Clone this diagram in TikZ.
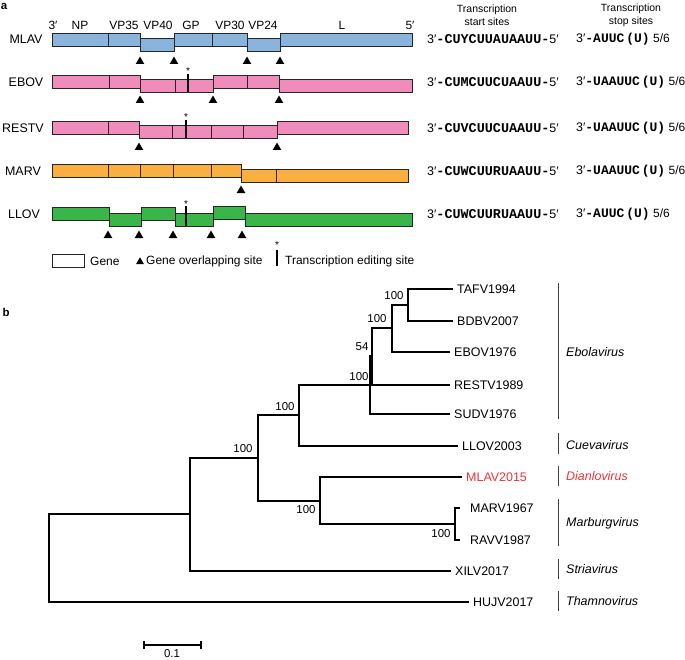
\documentclass[tikz,border=0pt]{standalone}
\usepackage{fontspec}
\setmainfont{Liberation Sans}
\setmonofont{Liberation Mono}
\usepackage{tikz}
\usetikzlibrary{shapes.geometric}
\pgfdeclarelayer{edgelayer}
\pgfdeclarelayer{nodelayer}
\pgfsetlayers{edgelayer,nodelayer,main}
\definecolor{mlavblue}{RGB}{139,180,220}
\definecolor{ebovpink}{RGB}{240,140,185}
\definecolor{marvorange}{RGB}{249,176,64}
\definecolor{llovgreen}{RGB}{57,181,74}
\definecolor{newred}{RGB}{237,50,55}
\newcommand{\startseq}[1]{{\fontsize{13.5}{14}\selectfont\ttfamily\bfseries #1}}
\newcommand{\stopseq}[1]{{\fontsize{13}{14}\selectfont\ttfamily\bfseries #1}}
\newcommand{\fivesix}{{\fontsize{12}{13}\selectfont 5/6}}
\tikzstyle{none} = []
\tikzstyle{Blue Gene}=[fill=mlavblue, draw=black!85, line width=0.9pt]
\tikzstyle{Pink Gene}=[fill=ebovpink, draw=black!85, line width=0.9pt]
\tikzstyle{Orange Gene}=[fill=marvorange, draw=black!85, line width=0.9pt]
\tikzstyle{Green Gene}=[fill=llovgreen, draw=black!85, line width=0.9pt]
\tikzstyle{White Gene}=[fill=white, draw=black!85, line width=0.9pt]
\tikzstyle{Overlap}=[regular polygon, regular polygon sides=3, fill=black, inner sep=0pt, outer sep=0pt, minimum size=10pt, anchor=south]
\tikzstyle{Edit Bar}=[-, draw=black, line width=2.6pt]
\tikzstyle{Branch}=[-, draw=black, line width=1.6pt]
\tikzstyle{Thick Branch}=[-, draw=black, line width=2.6pt]
\tikzstyle{Genus Bar}=[-, draw=black!75, line width=0.9pt]
\tikzstyle{Gene Name}=[inner sep=0pt, font=\fontsize{12}{13}\selectfont]
\tikzstyle{Header}=[inner sep=0pt, align=center, font=\fontsize{10.5}{13}\selectfont]
\tikzstyle{Tip}=[anchor=west, inner sep=0pt]
\tikzstyle{Legend}=[anchor=west, inner sep=0pt, font=\fontsize{12}{13}\selectfont]
\tikzstyle{Genus}=[anchor=west, inner sep=0pt, font=\fontsize{12.5}{13}\selectfont\itshape]
\tikzstyle{Support}=[inner sep=0pt, font=\fontsize{11.5}{12}\selectfont]
\tikzstyle{Panel}=[inner sep=0pt, font=\fontsize{11.5}{13}\selectfont\bfseries]
\tikzstyle{Star}=[inner sep=0pt, font=\fontsize{10}{11}\selectfont]
\begin{document}
\begin{tikzpicture}[x=1bp, y=-1bp]
	\fontsize{12.5}{14}\selectfont
	\useasboundingbox (0,0) rectangle (685,660);
	\begin{pgfonlayer}{nodelayer}
		% panel a, labels
		\node [style=Panel] (0) at (4,6) {a};
		\node [style=Gene Name] (1) at (53,25) {3′};
		\node [style=Gene Name] (2) at (80,25) {NP};
		\node [style=Gene Name] (3) at (124,25) {VP35};
		\node [style=Gene Name] (4) at (158,25) {VP40};
		\node [style=Gene Name] (5) at (191,25) {GP};
		\node [style=Gene Name] (6) at (230,25) {VP30};
		\node [style=Gene Name] (7) at (263,25) {VP24};
		\node [style=Gene Name] (8) at (342,25) {L};
		\node [style=Gene Name] (9) at (410,25) {5′};
		\node [style=none, inner sep=0pt] (10) at (26,39) {MLAV};
		\node [style=none, inner sep=0pt] (11) at (26,82) {EBOV};
		\node [style=none, inner sep=0pt] (12) at (23,128) {RESTV};
		\node [style=none, inner sep=0pt] (13) at (23,171) {MARV};
		\node [style=none, inner sep=0pt] (14) at (24,214) {LLOV};
		\node [style=Header] (15) at (487,15) {Transcription\\start sites};
		\node [style=Header] (16) at (631,15) {Transcription\\stop sites};
		\node [style=Tip] (17) at (427,39) {3′\startseq{-CUYCUUAUAAUU-}5′};
		\node [style=Tip] (18) at (427,82) {3′\startseq{-CUMCUUCUAAUU-}5′};
		\node [style=Tip] (19) at (427,128) {3′\startseq{-CUVCUUCUAAUU-}5′};
		\node [style=Tip] (20) at (427,171) {3′\startseq{-CUWCUURUAAUU-}5′};
		\node [style=Tip] (21) at (427,214) {3′\startseq{-CUWCUURUAAUU-}5′};
		\node [style=Tip] (22) at (576,39) {3′\stopseq{-AUUC\hspace{2bp}(U)} \fivesix};
		\node [style=Tip] (23) at (576,82) {3′\stopseq{-UAAUUC\hspace{2bp}(U)} \fivesix};
		\node [style=Tip] (24) at (576,128) {3′\stopseq{-UAAUUC\hspace{2bp}(U)} \fivesix};
		\node [style=Tip] (25) at (576,171) {3′\stopseq{-UAAUUC\hspace{2bp}(U)} \fivesix};
		\node [style=Tip] (26) at (576,214) {3′\stopseq{-AUUC\hspace{2bp}(U)} \fivesix};
		% overlapping sites
		\node [style=Overlap] (30) at (140,64) {};
		\node [style=Overlap] (31) at (174,64) {};
		\node [style=Overlap] (32) at (247,64) {};
		\node [style=Overlap] (33) at (280,64) {};
		\node [style=Overlap] (34) at (140,103) {};
		\node [style=Overlap] (35) at (213,103) {};
		\node [style=Overlap] (36) at (279,103) {};
		\node [style=Overlap] (37) at (139,150) {};
		\node [style=Overlap] (38) at (277,150) {};
		\node [style=Overlap] (39) at (241,193) {};
		\node [style=Overlap] (40) at (108,238) {};
		\node [style=Overlap] (41) at (139,238) {};
		\node [style=Overlap] (42) at (173,238) {};
		\node [style=Overlap] (43) at (211,238) {};
		\node [style=Overlap] (44) at (242,238) {};
		\node [style=Star] (45) at (188,71) {*};
		\node [style=Star] (46) at (186,117) {*};
		\node [style=Star] (47) at (186,204) {*};
		% legend
		\node [style=Legend] (50) at (90,261) {Gene};
		\node [style=Overlap, minimum size=9pt] (51) at (140,264) {};
		\node [style=Legend] (52) at (146,261) {Gene overlapping site};
		\node [style=Star] (53) at (277,245) {*};
		\node [style=Legend] (54) at (285,261) {Transcription editing site};
		% panel b, tree
		\node [style=Panel] (60) at (6,312) {b};
		\node [style=none] (100) at (49,558) {};
		\node [style=none] (101) at (190,514) {};
		\node [style=none] (102) at (258,458) {};
		\node [style=none] (103) at (299,415) {};
		\node [style=none] (104) at (370,385) {};
		\node [style=none] (105) at (372,356) {};
		\node [style=none] (106) at (392,328) {};
		\node [style=none] (107) at (408,305) {};
		\node [style=none] (108) at (320,501) {};
		\node [style=none] (109) at (455,524) {};
		\node [style=none] (110) at (453,289) {};
		\node [style=none] (111) at (453,321) {};
		\node [style=none] (112) at (450,352) {};
		\node [style=none] (113) at (450,385) {};
		\node [style=none] (114) at (450,414) {};
		\node [style=none] (115) at (458,446) {};
		\node [style=none] (116) at (462,477) {};
		\node [style=none] (117) at (460,508) {};
		\node [style=none] (118) at (460,540) {};
		\node [style=none] (119) at (451,571) {};
		\node [style=none] (120) at (469,602) {};
		\node [style=Tip] (130) at (457,289) {TAFV1994};
		\node [style=Tip] (131) at (457,321) {BDBV2007};
		\node [style=Tip] (132) at (454,352) {EBOV1976};
		\node [style=Tip] (133) at (454,385) {RESTV1989};
		\node [style=Tip] (134) at (454,414) {SUDV1976};
		\node [style=Tip] (135) at (462,446) {LLOV2003};
		\node [style=Tip, text=newred] (136) at (466,477) {MLAV2015};
		\node [style=Tip] (137) at (470,508) {MARV1967};
		\node [style=Tip] (138) at (470,540) {RAVV1987};
		\node [style=Tip] (139) at (455,571) {XILV2017};
		\node [style=Tip] (140) at (473,602) {HUJV2017};
		\node [style=Support] (141) at (243,449) {100};
		\node [style=Support] (142) at (285,407) {100};
		\node [style=Support] (143) at (306,510) {100};
		\node [style=Support] (144) at (441,534) {100};
		\node [style=Support] (145) at (359,377) {100};
		\node [style=Support] (146) at (362,347) {54};
		\node [style=Support] (147) at (377,319) {100};
		\node [style=Support] (148) at (394,296) {100};
		\node [style=none] (150) at (558,283) {};
		\node [style=none] (151) at (558,419) {};
		\node [style=none] (152) at (558,433) {};
		\node [style=none] (153) at (558,454) {};
		\node [style=none] (154) at (558,466) {};
		\node [style=none] (155) at (558,486) {};
		\node [style=none] (156) at (558,499) {};
		\node [style=none] (157) at (558,546) {};
		\node [style=none] (158) at (558,559) {};
		\node [style=none] (159) at (558,579) {};
		\node [style=none] (160) at (558,591) {};
		\node [style=none] (161) at (558,611) {};
		\node [style=Genus] (162) at (566,352) {Ebolavirus};
		\node [style=Genus] (163) at (566,445) {Cuevavirus};
		\node [style=Genus, text=newred] (164) at (566,476) {Dianlovirus};
		\node [style=Genus] (165) at (566,523) {Marburgvirus};
		\node [style=Genus] (166) at (566,569) {Striavirus};
		\node [style=Genus] (167) at (566,601) {Thamnovirus};
		% scale bar
		\node [style=none] (170) at (144,645) {};
		\node [style=none] (171) at (201,645) {};
		\node [style=Support] (172) at (172,654) {0.1};
	\end{pgfonlayer}
	\begin{pgfonlayer}{edgelayer}
		% MLAV
		\draw [style=Blue Gene] (52,33) rectangle (108,46);
		\draw [style=Blue Gene] (108,33) rectangle (140,46);
		\draw [style=Blue Gene] (140,38) rectangle (174,51);
		\draw [style=Blue Gene] (174,33) rectangle (212,46);
		\draw [style=Blue Gene] (212,33) rectangle (247,46);
		\draw [style=Blue Gene] (247,38) rectangle (280,51);
		\draw [style=Blue Gene] (280,33) rectangle (412,46);
		% EBOV
		\draw [style=Pink Gene] (52,75) rectangle (109,88);
		\draw [style=Pink Gene] (109,75) rectangle (140,88);
		\draw [style=Pink Gene] (140,79) rectangle (175,92);
		\draw [style=Pink Gene] (175,79) rectangle (213,92);
		\draw [style=Pink Gene] (213,75) rectangle (247,88);
		\draw [style=Pink Gene] (247,75) rectangle (279,88);
		\draw [style=Pink Gene] (279,79) rectangle (412,92);
		\draw [style=Edit Bar] (188,74) -- (188,92);
		% RESTV
		\draw [style=Pink Gene] (52,121) rectangle (108,134);
		\draw [style=Pink Gene] (108,121) rectangle (139,134);
		\draw [style=Pink Gene] (139,125) rectangle (172,138);
		\draw [style=Pink Gene] (172,125) rectangle (211,138);
		\draw [style=Pink Gene] (211,125) rectangle (243,138);
		\draw [style=Pink Gene] (243,125) rectangle (277,138);
		\draw [style=Pink Gene] (277,121) rectangle (408,134);
		\draw [style=Edit Bar] (186,120) -- (186,138);
		% MARV
		\draw [style=Orange Gene] (52,164) rectangle (108,177);
		\draw [style=Orange Gene] (108,164) rectangle (140,177);
		\draw [style=Orange Gene] (140,164) rectangle (173,177);
		\draw [style=Orange Gene] (173,164) rectangle (211,177);
		\draw [style=Orange Gene] (211,164) rectangle (241,177);
		\draw [style=Orange Gene] (241,169) rectangle (276,182);
		\draw [style=Orange Gene] (276,169) rectangle (408,182);
		% LLOV
		\draw [style=Green Gene] (52,207) rectangle (109,220);
		\draw [style=Green Gene] (109,213) rectangle (141,226);
		\draw [style=Green Gene] (141,207) rectangle (175,220);
		\draw [style=Green Gene] (175,213) rectangle (213,226);
		\draw [style=Green Gene] (213,206) rectangle (245,219);
		\draw [style=Green Gene] (245,213) rectangle (412,226);
		\draw [style=Edit Bar] (186,206) -- (186,226);
		% legend
		\draw [style=White Gene] (52,254) rectangle (84,267);
		\draw [style=Edit Bar] (277,250) -- (277,266);
		% tree
		\draw [style=Branch] (100.center) |- (101.center);
		\draw [style=Branch] (100.center) |- (120.center);
		\draw [style=Branch] (101.center) |- (102.center);
		\draw [style=Branch] (101.center) |- (119.center);
		\draw [style=Branch] (102.center) |- (103.center);
		\draw [style=Branch] (102.center) |- (108.center);
		\draw [style=Branch] (103.center) |- (104.center);
		\draw [style=Branch] (103.center) |- (115.center);
		\draw [style=Branch] (104.center) |- (105.center);
		\draw [style=Branch] (104.center) |- (114.center);
		\draw [style=Branch] (105.center) |- (106.center);
		\draw [style=Branch] (105.center) |- (113.center);
		\draw [style=Branch] (106.center) |- (107.center);
		\draw [style=Branch] (106.center) |- (112.center);
		\draw [style=Branch] (107.center) |- (110.center);
		\draw [style=Branch] (107.center) |- (111.center);
		\draw [style=Branch] (108.center) |- (116.center);
		\draw [style=Branch] (108.center) |- (109.center);
		\draw [style=Thick Branch] (109.center) |- (117.center);
		\draw [style=Thick Branch] (109.center) |- (118.center);
		\draw [style=Genus Bar] (150.center) to (151.center);
		\draw [style=Genus Bar] (152.center) to (153.center);
		\draw [style=Genus Bar] (154.center) to (155.center);
		\draw [style=Genus Bar] (156.center) to (157.center);
		\draw [style=Genus Bar] (158.center) to (159.center);
		\draw [style=Genus Bar] (160.center) to (161.center);
		\draw [style=Branch] (170.center) to (171.center);
		\draw [style=Branch] ([yshift=4bp]170.center) to ([yshift=-4bp]170.center);
		\draw [style=Branch] ([yshift=4bp]171.center) to ([yshift=-4bp]171.center);
	\end{pgfonlayer}
\end{tikzpicture}
\end{document}
